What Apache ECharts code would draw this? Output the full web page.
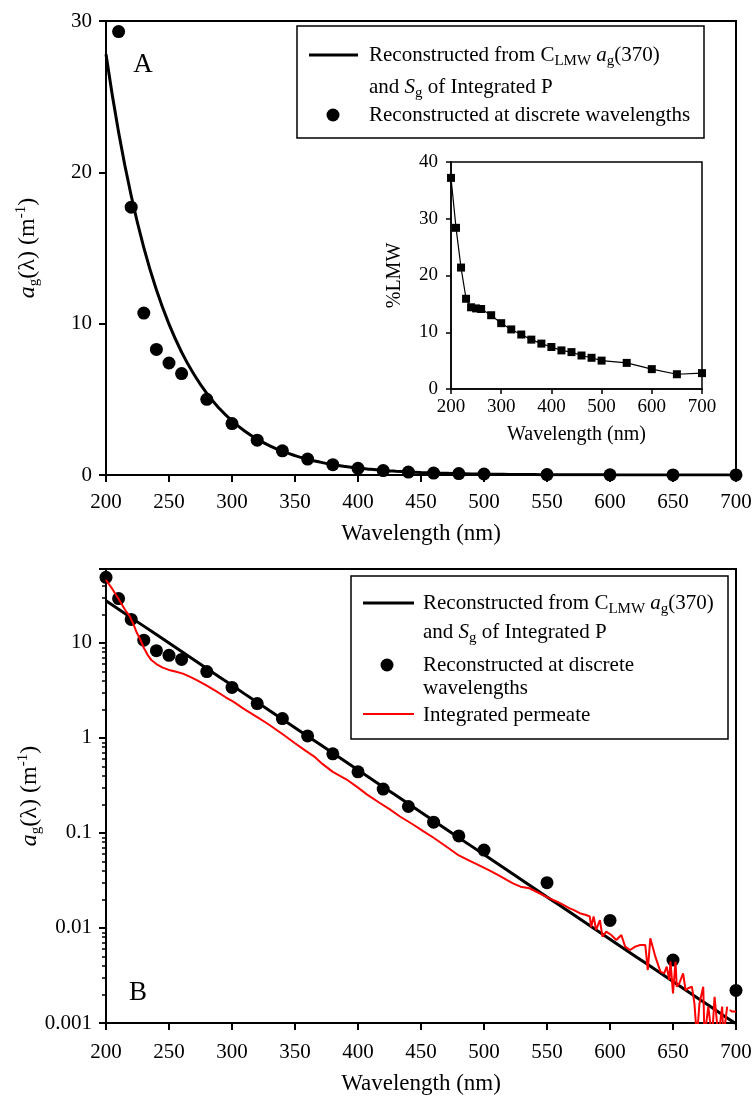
<!DOCTYPE html>
<html>
<head>
<meta charset="utf-8">
<script src="https://cdn.jsdelivr.net/npm/echarts@6/dist/echarts.min.js"></script>
<style>
  html, body { margin: 0; background: #fff; }
  #chart { width: 755px; height: 1098px; }
</style>
</head>
<body>
<div id="chart"></div>
<script>
// discrete wavelengths (nm) and reconstructed a_g at those wavelengths (m^-1)
const discreteWl = [200, 210, 220, 230, 240, 250, 260, 280, 300, 320, 340, 360, 380, 400, 420, 440, 460, 480, 500, 550, 600, 650, 700];
const agDiscrete = [49, 29.3, 17.7, 10.7, 8.3, 7.4, 6.7, 5.0, 3.4, 2.3, 1.6, 1.05, 0.68, 0.44, 0.29, 0.19, 0.13, 0.093, 0.066, 0.030, 0.012, 0.0046, 0.0022];

// %LMW (inset), same wavelengths
const pctLMW = [37.2, 28.4, 21.4, 15.9, 14.4, 14.2, 14.1, 13.0, 11.6, 10.5, 9.6, 8.7, 8.0, 7.4, 6.8, 6.5, 5.9, 5.5, 5.0, 4.6, 3.5, 2.6, 2.8];

// reconstructed curve from C_LMW a_g(370) and S_g
const fitWl = [200, 210, 220, 230, 240, 250, 260, 270, 280, 290, 300, 310, 320, 330, 340, 350, 360, 370, 380, 390, 400,
  410, 420, 430, 440, 450, 460, 470, 480, 490, 500, 510, 520, 530, 540, 550, 560, 570, 580, 590, 600,
  610, 620, 630, 640, 650, 660, 670, 680, 690, 700];
const agFit = [27.8, 22.65, 18.45, 15.03, 12.24, 9.97, 8.12, 6.62, 5.39, 4.39, 3.58, 2.91, 2.37, 1.93, 1.575, 1.283, 1.045, 0.851, 0.693, 0.565, 0.460,
  0.375, 0.305, 0.249, 0.203, 0.165, 0.1344, 0.1095, 0.0892, 0.0727, 0.0592, 0.0482, 0.0393, 0.0320, 0.0261, 0.0212, 0.0173, 0.0141, 0.0115, 0.00935, 0.00762,
  0.00620, 0.00505, 0.00412, 0.00335, 0.00273, 0.00223, 0.00181, 0.00148, 0.00120, 0.00098];

// integrated permeate spectrum
const permeateWl = [200, 205, 209, 215, 219, 222, 224, 227, 230, 233, 236, 240, 245, 250, 255, 261, 266, 272, 280, 288, 295, 301, 310, 320, 328,
  340, 350, 358, 365, 372, 380, 391, 400, 407, 417, 425, 433, 444, 452, 460, 470, 480, 490, 497, 505, 512, 518, 523,
  529, 536, 544, 552, 558, 563, 568, 571, 576, 581, 584, 585, 587, 589, 592, 594, 597, 601, 605, 609, 612, 616, 620, 624, 628,
  630, 632, 636, 640, 643, 645, 647, 648, 650, 652, 653, 655, 658, 660, 662, 665, 667, 669, 671, 674, 675, 678, 681, 683, 686,
  689, 690, 693, 694, 695, 697, 698, 700];
const agPermeate = [46, 37, 30.5, 22.5, 18.9, 15.5, 13.2, 11.0, 8.9, 7.5, 6.6, 6.0, 5.5, 5.2, 5.0, 4.75, 4.45, 4.07, 3.55, 3.07, 2.68, 2.41, 2.0, 1.66, 1.42,
  1.10, 0.88, 0.74, 0.64, 0.53, 0.44, 0.365, 0.30, 0.255, 0.208, 0.178, 0.150, 0.122, 0.104, 0.089, 0.072, 0.058, 0.050, 0.045, 0.040, 0.0355, 0.032, 0.0295,
  0.0272, 0.0262, 0.0232, 0.0205, 0.0189, 0.0175, 0.0161, 0.0155, 0.0143, 0.0137, 0.0132, 0.0102, 0.0132, 0.00953, 0.0121, 0.0081, 0.00915, 0.00843, 0.00748, 0.00843, 0.00636, 0.00587, 0.00636, 0.00662, 0.00662,
  0.00361, 0.00778, 0.00499, 0.00347, 0.00333, 0.00392, 0.00284, 0.00443, 0.00205, 0.00443, 0.00241, 0.00261, 0.00333, 0.00222, 0.00232, 0.00241, 0.00161, 0.0007, 0.00161, 0.00241, 0.0007, 0.00149, 0.0007, 0.00189, 0.0007,
  0.00149, 0.0007, 0.00149, null, 0.00137, 0.00132, 0.00137, 0.00132];

const FONT = 'Liberation Serif';
const pairs = (xs, ys) => xs.map((x, i) => [x, ys[i] == null ? '-' : ys[i]]);

const myChart = echarts.init(document.getElementById('chart'), null, { renderer: 'canvas' });

// rich styles for italics / sub- and superscripts
const rich = (size) => ({
  t: { fontFamily: FONT, fontSize: size, lineHeight: 28, fill: '#000', color: '#000' },
  i: { fontFamily: FONT, fontSize: size, fontStyle: 'italic', lineHeight: 28, fill: '#000', color: '#000' },
  s: { fontFamily: FONT, fontSize: 15, lineHeight: 16, verticalAlign: 'bottom', fill: '#000', color: '#000' },
  p: { fontFamily: FONT, fontSize: 15, lineHeight: 14, verticalAlign: 'top', fill: '#000', color: '#000' }
});

function xAxisCfg(grid, interval, fontSize, titleSize, margin, nameGap, tickLen) {
  return {
    type: 'value', gridIndex: grid, min: 200, max: 700, interval: interval,
    name: 'Wavelength (nm)', nameLocation: 'middle', nameGap: nameGap,
    nameTextStyle: { fontFamily: FONT, fontSize: titleSize, color: '#000' },
    axisLine: { lineStyle: { color: '#000', width: grid === 1 ? 1.5 : 2 } },
    axisTick: { inside: false, length: tickLen, lineStyle: { color: '#000', width: grid === 1 ? 1.5 : 2 } },
    axisLabel: { fontFamily: FONT, fontSize: fontSize, color: '#000', margin: margin },
    splitLine: { show: false }
  };
}

const agName = '{i|a}{s|g}{t|(λ) (m}{p|-1}{t|)}';

function legendText(x, y, text) {
  return { type: 'text', z: 101, x: x, y: y, style: { text: text, rich: rich(21),
    fontFamily: FONT, fontSize: 21, lineHeight: 28, fill: '#000', verticalAlign: 'middle' } };
}

const option = {
  animation: false,
  backgroundColor: '#fff',
  grid: [
    { left: 106, top: 21, width: 630, height: 454, show: true, borderColor: '#000', borderWidth: 2 },
    { left: 451, top: 162, width: 251, height: 227, show: true, borderColor: '#000', borderWidth: 1.5 },
    { left: 106, top: 569, width: 630, height: 454, show: true, borderColor: '#000', borderWidth: 2 }
  ],
  xAxis: [
    xAxisCfg(0, 50, 21, 23, 17, 47, 7),
    xAxisCfg(1, 100, 19, 20, 9, 36, 5),
    xAxisCfg(2, 50, 21, 23, 19, 49, 7)
  ],
  yAxis: [
    {
      type: 'value', gridIndex: 0, min: 0, max: 30, interval: 10,
      name: agName, nameLocation: 'middle', nameRotate: 90, nameGap: 64, nameMoveOverlap: false,
      nameTextStyle: { fontFamily: FONT, fontSize: 24, color: '#000', lineHeight: 28, rich: rich(24) },
      axisLine: { show: true, lineStyle: { color: '#000', width: 2 } },
      axisTick: { show: true, length: 7, lineStyle: { color: '#000', width: 2 } },
      axisLabel: { fontFamily: FONT, fontSize: 21, color: '#000', margin: 14 },
      splitLine: { show: false }
    },
    {
      type: 'value', gridIndex: 1, min: 0, max: 40, interval: 10,
      name: '%LMW', nameLocation: 'middle', nameRotate: 90, nameGap: 46, nameMoveOverlap: false,
      nameTextStyle: { fontFamily: FONT, fontSize: 20, color: '#000' },
      axisLine: { show: true, lineStyle: { color: '#000', width: 1.5 } },
      axisTick: { show: true, length: 5, lineStyle: { color: '#000', width: 1.5 } },
      axisLabel: { fontFamily: FONT, fontSize: 19, color: '#000', margin: 13 },
      splitLine: { show: false }
    },
    {
      type: 'log', gridIndex: 2, min: 0.001, max: 60, logBase: 10,
      name: agName, nameLocation: 'middle', nameRotate: 90, nameGap: 62, nameMoveOverlap: false,
      nameTextStyle: { fontFamily: FONT, fontSize: 24, color: '#000', lineHeight: 28, rich: rich(24) },
      axisLine: { show: true, lineStyle: { color: '#000', width: 2 } },
      axisTick: { show: true, length: 7, lineStyle: { color: '#000', width: 2 } },
      minorTick: { show: true, splitNumber: 9, length: 4, lineStyle: { color: '#000', width: 1.5 } },
      axisLabel: {
        fontFamily: FONT, fontSize: 21, color: '#000', margin: 14, showMaxLabel: false,
        formatter: v => String(+(+v).toPrecision(6))
      },
      splitLine: { show: false },
      minorSplitLine: { show: false }
    }
  ],
  series: [
    {
      name: 'fitA', type: 'line', xAxisIndex: 0, yAxisIndex: 0,
      data: pairs(fitWl, agFit), smooth: true, symbol: 'none',
      lineStyle: { color: '#000', width: 3 }
    },
    {
      name: 'discreteA', type: 'scatter', xAxisIndex: 0, yAxisIndex: 0,
      data: pairs(discreteWl, agDiscrete), symbolSize: 13,
      itemStyle: { color: '#000', opacity: 1 }
    },
    {
      name: 'lmw', type: 'line', xAxisIndex: 1, yAxisIndex: 1,
      data: pairs(discreteWl, pctLMW), symbol: 'rect', symbolSize: 8,
      lineStyle: { color: '#000', width: 1.2 }, itemStyle: { color: '#000', opacity: 1 }
    },
    {
      name: 'fitB', type: 'line', xAxisIndex: 2, yAxisIndex: 2,
      data: pairs(fitWl, agFit), symbol: 'none',
      lineStyle: { color: '#000', width: 3 }
    },
    {
      name: 'discreteB', type: 'scatter', xAxisIndex: 2, yAxisIndex: 2,
      data: pairs(discreteWl, agDiscrete), symbolSize: 13,
      itemStyle: { color: '#000', opacity: 1 }
    },
    {
      name: 'permeate', type: 'line', xAxisIndex: 2, yAxisIndex: 2,
      data: pairs(permeateWl, agPermeate), symbol: 'none', connectNulls: false,
      lineStyle: { color: '#ff0000', width: 2 }
    }
  ],
  graphic: [
    // panel A legend
    { type: 'rect', z: 100, shape: { x: 297, y: 26, width: 407, height: 112 },
      style: { fill: '#fff', stroke: '#000', lineWidth: 1.5 } },
    { type: 'line', z: 101, shape: { x1: 309, y1: 55, x2: 358, y2: 55 }, style: { stroke: '#000', lineWidth: 3 } },
    { type: 'circle', z: 101, shape: { cx: 333, cy: 115, r: 6.5 }, style: { fill: '#000' } },
    legendText(369, 55, '{t|Reconstructed from C}{s|LMW}{t| }{i|a}{s|g}{t|(370)}'),
    legendText(369, 87, '{t|and }{i|S}{s|g}{t| of Integrated P}'),
    legendText(369, 115, 'Reconstructed at discrete wavelengths'),
    { type: 'text', z: 101, x: 143, y: 65, style: { text: 'A', fontFamily: FONT, fontSize: 27, fill: '#000',
      align: 'center', verticalAlign: 'middle' } },

    // panel B legend
    { type: 'rect', z: 100, shape: { x: 351, y: 576, width: 377, height: 163 },
      style: { fill: '#fff', stroke: '#000', lineWidth: 1.5 } },
    { type: 'line', z: 101, shape: { x1: 363, y1: 603, x2: 414, y2: 603 }, style: { stroke: '#000', lineWidth: 3 } },
    { type: 'circle', z: 101, shape: { cx: 387, cy: 665, r: 6.5 }, style: { fill: '#000' } },
    { type: 'line', z: 101, shape: { x1: 363, y1: 714, x2: 414, y2: 714 }, style: { stroke: '#ff0000', lineWidth: 2 } },
    legendText(423, 603, '{t|Reconstructed from C}{s|LMW}{t| }{i|a}{s|g}{t|(370)}'),
    legendText(423, 632, '{t|and }{i|S}{s|g}{t| of Integrated P}'),
    legendText(423, 665, 'Reconstructed at discrete'),
    legendText(423, 688, 'wavelengths'),
    legendText(423, 715, 'Integrated permeate'),
    { type: 'text', z: 101, x: 138, y: 993, style: { text: 'B', fontFamily: FONT, fontSize: 27, fill: '#000',
      align: 'center', verticalAlign: 'middle' } }
  ]
};

myChart.setOption(option);
window.addEventListener('resize', () => myChart.resize());
</script>
</body>
</html>
